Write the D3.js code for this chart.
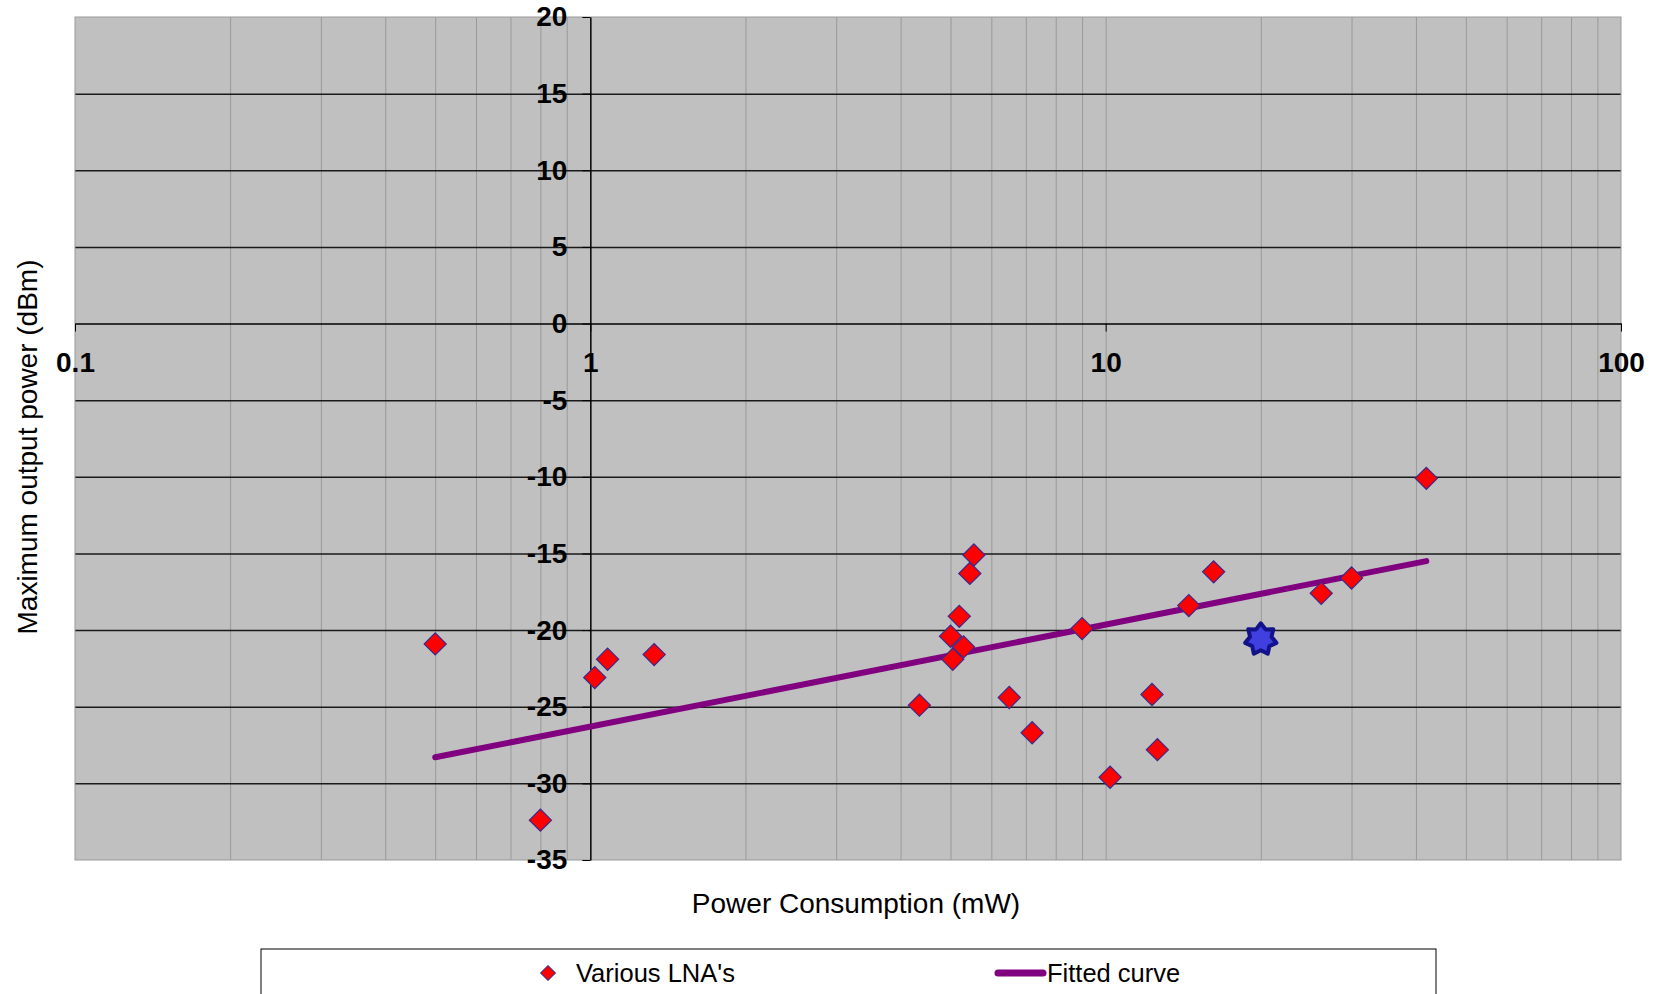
<!DOCTYPE html>
<html>
<head>
<meta charset="utf-8">
<script src="https://cdn.jsdelivr.net/npm/d3@7"></script>
<style>
  body { margin: 0; background: #fff; }
  svg { display: block; font-family: Arial, "Liberation Sans", sans-serif; }
</style>
</head>
<body>
<div id="chart"></div>
<script>
// LNA survey: power consumption (mW) vs max output power (dBm)
const lnaPower = [0.5, 0.8, 1.02, 1.08, 1.33, 4.35, 5.0, 5.05, 5.2, 5.3, 5.45, 5.55,
  6.5, 7.2, 9.0, 10.2, 12.3, 12.6, 14.5, 16.2, 26.2, 30, 41.9];
const lnaOutput = [-20.9, -32.4, -23.1, -21.9, -21.6, -24.9, -20.4, -21.9, -19.1, -21.1, -16.3, -15.1,
  -24.4, -26.7, -19.9, -29.6, -24.2, -27.8, -18.4, -16.2, -17.6, -16.6, -10.1];

// this work (star marker)
const starPower = [20];
const starOutput = [-20.6];

// fitted curve end points (straight on log axis)
const fitPower = [0.5, 41.9];
const fitOutput = [-28.3, -15.5];

const xTicks = [0.1, 1, 10, 100];
const yTicks = [-35, -30, -25, -20, -15, -10, -5, 0, 5, 10, 15, 20];

const width = 1657, height = 994;
const plot = { left: 75, right: 1621, top: 17, bottom: 860 };

const svg = d3.select("#chart").append("svg")
  .attr("width", width)
  .attr("height", height);

const x = d3.scaleLog().domain([0.1, 100]).range([plot.left, plot.right]);
const y = d3.scaleLinear().domain([-35, 20]).range([plot.bottom, plot.top]);

// plot background
svg.append("rect")
  .attr("x", plot.left).attr("y", plot.top)
  .attr("width", plot.right - plot.left)
  .attr("height", plot.bottom - plot.top)
  .attr("fill", "#c0c0c0");

// vertical minor gridlines (2..9 of each decade)
const minorX = [];
[0.1, 1, 10].forEach((dec) => {
  for (let k = 2; k <= 9; k++) minorX.push(dec * k);
});
minorX.push(10);

svg.append("g")
  .attr("class", "grid-x")
  .attr("transform", `translate(0, ${plot.bottom})`)
  .call(d3.axisBottom(x).tickValues(minorX).tickSize(-(plot.bottom - plot.top)).tickFormat(""))
  .call((g) => g.select(".domain").remove())
  .call((g) => g.selectAll("line").attr("stroke", "#999").attr("stroke-width", 1));

// horizontal major gridlines
svg.append("g")
  .attr("class", "grid-y")
  .attr("transform", `translate(${plot.left}, 0)`)
  .call(d3.axisLeft(y).tickValues(yTicks.filter((v) => v > -35 && v < 20 && v !== 0))
    .tickSize(-(plot.right - plot.left)).tickFormat(""))
  .call((g) => g.select(".domain").remove())
  .call((g) => g.selectAll("line").attr("stroke", "#1a1a1a").attr("stroke-width", 1.5));

// plot border
svg.append("rect")
  .attr("x", plot.left).attr("y", plot.top)
  .attr("width", plot.right - plot.left)
  .attr("height", plot.bottom - plot.top)
  .attr("fill", "none")
  .attr("stroke", "#999")
  .attr("stroke-width", 1);

// x axis crossing at y = 0
const xAxis = svg.append("g")
  .attr("class", "x-axis")
  .attr("transform", `translate(0, ${y(0)})`)
  .call(d3.axisBottom(x).tickValues(xTicks).tickSize(8).tickSizeOuter(0).tickPadding(21)
    .tickFormat((d) => String(d)));
xAxis.select(".domain").attr("stroke", "#000").attr("stroke-width", 1.5);
xAxis.selectAll(".tick line").attr("stroke", "#000");
xAxis.selectAll("text")
  .attr("fill", "#000")
  .style("font-size", "28px")
  .style("font-weight", "bold");

// y axis crossing at x = 1
const yAxis = svg.append("g")
  .attr("class", "y-axis")
  .attr("transform", `translate(${x(1)}, 0)`)
  .call(d3.axisLeft(y).tickValues(yTicks).tickSize(8).tickSizeOuter(0).tickPadding(15)
    .tickFormat((d) => String(d)));
yAxis.select(".domain").attr("stroke", "#000").attr("stroke-width", 1.5);
yAxis.selectAll(".tick line").attr("stroke", "#000");
yAxis.selectAll("text")
  .attr("fill", "#000")
  .style("font-size", "28px")
  .style("font-weight", "bold");

// axis titles
svg.append("text")
  .attr("x", 856)
  .attr("y", 913)
  .attr("text-anchor", "middle")
  .style("font-size", "28px")
  .text("Power Consumption (mW)");

svg.append("text")
  .attr("transform", "translate(37, 447) rotate(-90)")
  .attr("text-anchor", "middle")
  .style("font-size", "28px")
  .text("Maximum output power (dBm)");

// fitted curve
const fitData = fitPower.map((p, i) => [p, fitOutput[i]]);
svg.append("path")
  .datum(fitData)
  .attr("fill", "none")
  .attr("stroke", "#800080")
  .attr("stroke-width", 6)
  .attr("stroke-linecap", "round")
  .attr("d", d3.line().x((d) => x(d[0])).y((d) => y(d[1])));

// LNA diamonds
const diamond = d3.symbol().type(d3.symbolSquare).size(245);
const lnaData = lnaPower.map((p, i) => ({ p, o: lnaOutput[i] }));
svg.append("g")
  .selectAll("path")
  .data(lnaData)
  .join("path")
  .attr("transform", (d) => `translate(${x(d.p)}, ${y(d.o)}) rotate(45)`)
  .attr("d", diamond)
  .attr("fill", "#ff0000")
  .attr("stroke", "#3a2a8c")
  .attr("stroke-width", 1.2);

// 7-point star
const starPts = [];
for (let i = 0; i < 14; i++) {
  starPts.push([(i * Math.PI) / 7, i % 2 === 0 ? 16 : 11]);
}
const starPath = d3.lineRadial().angle((d) => d[0]).radius((d) => d[1])
  .curve(d3.curveLinearClosed);
svg.append("g")
  .selectAll("path")
  .data(starPower.map((p, i) => ({ p, o: starOutput[i] })))
  .join("path")
  .attr("transform", (d) => `translate(${x(d.p)}, ${y(d.o)})`)
  .attr("d", starPath(starPts))
  .attr("fill", "#4040e0")
  .attr("stroke", "#12128a")
  .attr("stroke-width", 4)
  .attr("stroke-linejoin", "round");

// legend
const legend = svg.append("g").attr("class", "legend");
legend.append("rect")
  .attr("x", 261).attr("y", 949)
  .attr("width", 1175).attr("height", 70)
  .attr("fill", "#fff")
  .attr("stroke", "#000")
  .attr("stroke-width", 1);

legend.append("path")
  .attr("transform", "translate(548, 973) rotate(45)")
  .attr("d", d3.symbol().type(d3.symbolSquare).size(110)())
  .attr("fill", "#ff0000")
  .attr("stroke", "#3a2a8c")
  .attr("stroke-width", 1);

legend.append("text")
  .attr("x", 576).attr("y", 973).attr("dy", "0.35em")
  .style("font-size", "25.5px")
  .text("Various LNA's");

legend.append("line")
  .attr("x1", 998).attr("x2", 1043)
  .attr("y1", 973).attr("y2", 973)
  .attr("stroke", "#800080")
  .attr("stroke-width", 7)
  .attr("stroke-linecap", "round");

legend.append("text")
  .attr("x", 1047).attr("y", 973).attr("dy", "0.35em")
  .style("font-size", "25.5px")
  .text("Fitted curve");
</script>
</body>
</html>
